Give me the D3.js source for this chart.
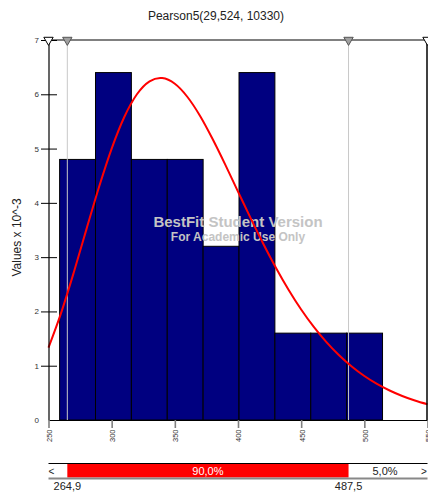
<!DOCTYPE html>
<html>
<head>
<meta charset="utf-8">
<script src="https://cdn.jsdelivr.net/npm/d3@7/dist/d3.min.js"></script>
<style>
  html, body { margin: 0; padding: 0; background: #fff; }
  svg { display: block; font-family: "Liberation Sans", Arial, sans-serif; }
</style>
</head>
<body>
<svg id="chart" width="428" height="493"></svg>
<script>
// Histogram bin edges (values) and densities (x 10^-3)
const binEdges = [258.8, 287.2, 315.6, 344.0, 372.4, 400.8, 429.2, 457.6, 486.0, 514.4];
const binDensity = [4.8, 6.4, 4.8, 4.8, 3.2, 6.4, 1.6, 1.6, 1.6];

// Fitted Pearson5(29,524, 10330) density (x 10^-3)
const curveX = [250, 260, 270, 280, 290, 300, 310, 320, 330, 338.4, 340, 350, 360, 370, 380, 390,
                400, 410, 420, 430, 440, 450, 460, 470, 480, 490, 500, 510, 520, 530, 540, 550];
const curveY = [1.334, 1.974, 2.718, 3.512, 4.293, 5.000, 5.581, 6.000, 6.238, 6.300, 6.298, 6.193,
                5.950, 5.600, 5.171, 4.700, 4.208, 3.718, 3.247, 2.805, 2.400, 2.036, 1.715, 1.434,
                1.192, 0.986, 0.811, 0.665, 0.543, 0.442, 0.358, 0.289];

const xTicks = [250, 300, 350, 400, 450, 500, 550];
const yTicks = [0, 1, 2, 3, 4, 5, 6, 7];

// Confidence delimiters and the probabilities between them
const leftMark = 264.9;
const rightMark = 487.5;
const midPct = "90,0%";
const rightPct = "5,0%";
const leftLabel = "264,9";
const rightLabel = "487,5";

const title = "Pearson5(29,524, 10330)";
const yTitle = "Values x 10^-3";

const svg = d3.select("#chart");
const plotLeft = 48.5, plotRight = 427.5, plotTop = 40, plotBottom = 420;

const x = d3.scaleLinear().domain([250, 550]).range([plotLeft, plotRight]);
const y = d3.scaleLinear().domain([0, 7]).range([plotBottom, plotTop]);

// Title
svg.append("text")
  .attr("x", 216).attr("y", 19.5)
  .attr("text-anchor", "middle")
  .attr("font-size", 12).attr("fill", "#222")
  .text(title);

// Histogram bars
const bins = binDensity.map((v, i) => ({ x0: binEdges[i], x1: binEdges[i + 1], v }));
svg.append("g").selectAll("rect").data(bins).join("rect")
  .attr("x", d => x(d.x0))
  .attr("width", d => x(d.x1) - x(d.x0))
  .attr("y", d => y(d.v))
  .attr("height", d => y(0) - y(d.v))
  .attr("fill", "#000080")
  .attr("stroke", "#000")
  .attr("stroke-width", 1);

// Delimiter lines
svg.append("g").selectAll("line").data([leftMark, rightMark]).join("line")
  .attr("x1", d => x(d)).attr("x2", d => x(d))
  .attr("y1", plotTop).attr("y2", plotBottom)
  .attr("stroke", "#c8c8c8").attr("stroke-width", 1);

// Watermark
svg.append("text")
  .attr("x", 238).attr("y", 227)
  .attr("text-anchor", "middle")
  .attr("font-size", 15).attr("font-weight", "bold")
  .attr("fill", "#c4c4c4")
  .text("BestFit Student Version");
svg.append("text")
  .attr("x", 238).attr("y", 240.5)
  .attr("text-anchor", "middle")
  .attr("font-size", 12).attr("font-weight", "bold")
  .attr("fill", "#c4c4c4")
  .text("For Academic Use Only");

// Fitted curve
const pts = curveX.map((v, i) => [v, curveY[i]]);
svg.append("path")
  .datum(pts)
  .attr("d", d3.line().x(d => x(d[0])).y(d => y(d[1])).curve(d3.curveMonotoneX))
  .attr("fill", "none")
  .attr("stroke", "#ff0000")
  .attr("stroke-width", 2);

// Frame: top grey rail, right edge
svg.append("line")
  .attr("x1", plotLeft).attr("x2", plotRight).attr("y1", plotTop).attr("y2", plotTop)
  .attr("stroke", "#808080").attr("stroke-width", 2);
svg.append("line")
  .attr("x1", plotRight - 0.5).attr("x2", plotRight - 0.5).attr("y1", plotTop).attr("y2", plotBottom)
  .attr("stroke", "#000").attr("stroke-width", 1.5);

// Y axis
const yAxis = svg.append("g")
  .attr("transform", `translate(${plotLeft},0)`)
  .call(d3.axisLeft(y).tickValues(yTicks).tickFormat(d3.format("d"))
    .tickSize(7.5).tickSizeOuter(0).tickPadding(2));
yAxis.select(".domain").attr("stroke", "#000").attr("stroke-width", 1.2);
yAxis.selectAll(".tick line")
  .attr("x1", -7.5).attr("x2", 8.5).attr("stroke", "#000")
  .filter(d => d === 0).remove();
yAxis.selectAll(".tick text")
  .attr("font-size", 8).attr("fill", "#333")
  .attr("font-family", "Liberation Sans, Arial, sans-serif");

// X axis
const xAxis = svg.append("g")
  .attr("transform", `translate(0,${plotBottom})`)
  .call(d3.axisBottom(x).tickValues(xTicks).tickFormat(d3.format("d")).tickSize(8).tickSizeOuter(0));
xAxis.select(".domain").attr("stroke", "#000").attr("stroke-width", 1.2);
xAxis.selectAll(".tick line").attr("stroke", "#808080").attr("stroke-width", 1.6);
xAxis.selectAll(".tick text")
  .attr("font-size", 7.5).attr("fill", "#333")
  .attr("font-family", "Liberation Sans, Arial, sans-serif")
  .attr("text-anchor", "end")
  .attr("transform", "translate(0,9.5) rotate(-90)")
  .attr("x", 0).attr("y", 0).attr("dy", "0.38em");

// Delimiter markers on the top rail
const tri = d3.symbol().type(d3.symbolTriangle).size(38);
const markers = [
  { v: 250, fill: "#fff", stroke: "#000" },
  { v: leftMark, fill: "#a0a0a0", stroke: "#555" },
  { v: rightMark, fill: "#a0a0a0", stroke: "#555" },
  { v: 550, fill: "#fff", stroke: "#000" }
];
svg.append("g").selectAll("path").data(markers).join("path")
  .attr("d", tri)
  .attr("transform", d => `translate(${x(d.v)},${plotTop}) rotate(180)`)
  .attr("fill", d => d.fill)
  .attr("stroke", d => d.stroke)
  .attr("stroke-width", 1);

// Y axis title
svg.append("text")
  .attr("transform", "translate(20.5,237.5) rotate(-90)")
  .attr("text-anchor", "middle")
  .attr("font-size", 12).attr("fill", "#222")
  .text(yTitle);

// Probability bar below the plot
const barTop = 464, barBot = 477.5;
svg.append("rect")
  .attr("x", x(leftMark)).attr("width", x(rightMark) - x(leftMark))
  .attr("y", barTop).attr("height", barBot - barTop)
  .attr("fill", "#ff0000");
svg.append("line")
  .attr("x1", plotLeft).attr("x2", plotRight).attr("y1", 463.5).attr("y2", 463.5)
  .attr("stroke", "#000").attr("stroke-width", 1.2);
svg.append("line")
  .attr("x1", plotLeft).attr("x2", plotRight).attr("y1", 478.5).attr("y2", 478.5)
  .attr("stroke", "#888").attr("stroke-width", 2);

svg.append("text")
  .attr("x", (x(leftMark) + x(rightMark)) / 2).attr("y", 475)
  .attr("text-anchor", "middle").attr("font-size", 11).attr("fill", "#fff")
  .text(midPct);
svg.append("text")
  .attr("x", 385).attr("y", 475)
  .attr("text-anchor", "middle").attr("font-size", 11).attr("fill", "#222")
  .text(rightPct);
svg.append("text")
  .attr("x", 51.5).attr("y", 474.5)
  .attr("text-anchor", "middle").attr("font-size", 10).attr("fill", "#222")
  .text("<");
svg.append("text")
  .attr("x", 424).attr("y", 474.5)
  .attr("text-anchor", "middle").attr("font-size", 10).attr("fill", "#222")
  .text(">");

svg.append("text")
  .attr("x", x(leftMark)).attr("y", 490)
  .attr("text-anchor", "middle").attr("font-size", 11).attr("fill", "#222")
  .text(leftLabel);
svg.append("text")
  .attr("x", x(rightMark)).attr("y", 490)
  .attr("text-anchor", "middle").attr("font-size", 11).attr("fill", "#222")
  .text(rightLabel);
</script>
</body>
</html>
